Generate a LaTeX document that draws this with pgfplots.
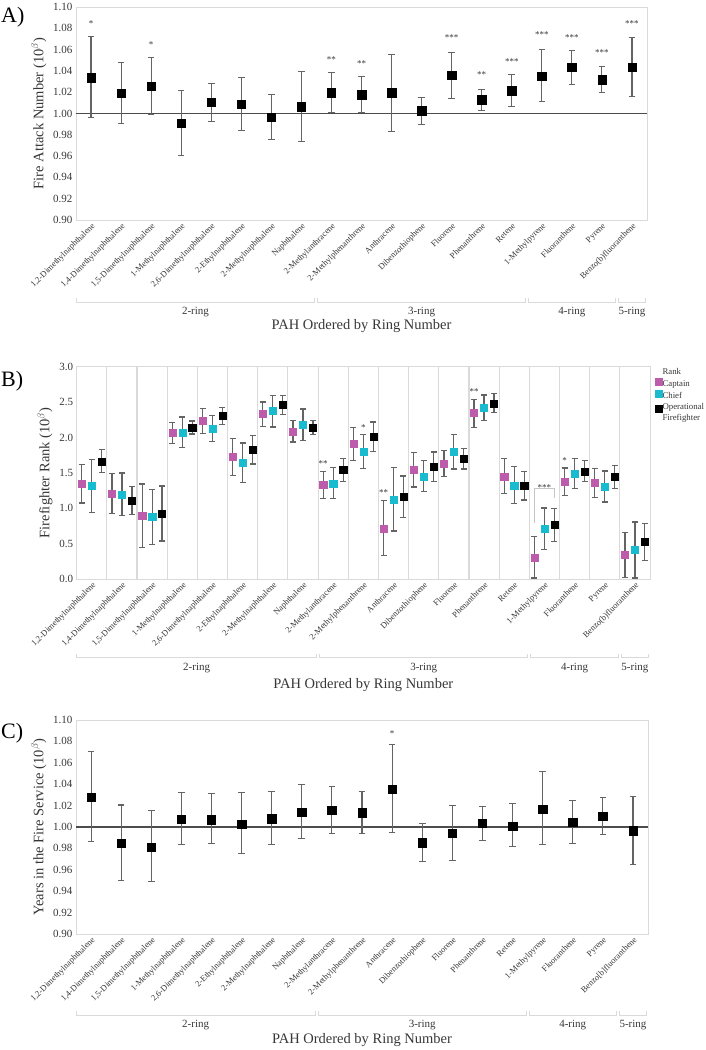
\documentclass[border=0pt]{standalone}
\usepackage{fontspec}
\setmainfont{Liberation Serif}
\usepackage{pgfplots}
\usepackage{pgfplotstable}
\pgfplotsset{compat=1.18}

\definecolor{captain}{RGB}{190,92,172}
\definecolor{chief}{RGB}{24,188,206}
\definecolor{frame}{RGB}{218,218,218}
\definecolor{bargray}{RGB}{100,100,100}
\definecolor{txt}{RGB}{55,55,55}

% A) fire attack number: estimate, lower, upper
\pgfplotstableread{
idx m lo hi
0 1.0335 0.9962 1.0722
1 1.0188 0.9909 1.0482
2 1.0256 0.9994 1.0528
3 0.9910 0.9604 1.0220
4 1.0104 0.9925 1.0285
5 1.0087 0.9838 1.0338
6 0.9963 0.9753 1.0179
7 1.0063 0.9737 1.0391
8 1.0194 1.0009 1.0388
9 1.0175 1.0009 1.0347
10 1.0194 0.9831 1.0557
11 1.0025 0.9897 1.0147
12 1.0357 1.0138 1.0575
13 1.0128 1.0028 1.0228
14 1.0213 1.0066 1.0366
15 1.0350 1.0113 1.0600
16 1.0432 1.0275 1.0591
17 1.0316 1.0200 1.0438
18 1.0435 1.0163 1.0716
}\attack

% B) rank
\pgfplotstableread{
idx m lo hi
0 1.347 1.073 1.616
1 1.206 0.923 1.488
2 0.895 0.447 1.343
3 2.068 1.912 2.214
4 2.233 2.054 2.407
5 1.729 1.465 1.983
6 2.332 2.157 2.501
7 2.077 1.936 2.242
8 1.328 1.135 1.521
9 1.908 1.677 2.138
10 0.716 0.330 1.107
11 1.550 1.300 1.790
12 1.630 1.451 1.813
13 2.346 2.143 2.539
14 1.451 1.206 1.700
15 0.306 0.014 0.603
16 1.380 1.182 1.569
17 1.357 1.154 1.559
18 0.339 0.024 0.655
}\capt

\pgfplotstableread{
idx m lo hi
0 1.314 0.943 1.686
1 1.196 0.900 1.498
2 0.881 0.485 1.267
3 2.073 1.861 2.289
4 2.129 1.941 2.313
5 1.644 1.361 1.922
6 2.374 2.148 2.595
7 2.186 1.960 2.402
8 1.352 1.135 1.573
9 1.804 1.559 2.040
10 1.121 0.678 1.573
11 1.451 1.239 1.672
12 1.795 1.554 2.040
13 2.416 2.237 2.600
14 1.324 1.069 1.587
15 0.711 0.415 1.003
16 1.493 1.276 1.705
17 1.305 1.088 1.526
18 0.410 0.014 0.805
}\chiefdata

\pgfplotstableread{
idx m lo hi
0 1.663 1.503 1.827
1 1.112 0.914 1.305
2 0.923 0.537 1.314
3 2.139 2.049 2.233
4 2.308 2.186 2.426
5 1.832 1.625 2.030
6 2.459 2.322 2.595
7 2.143 2.044 2.242
8 1.540 1.380 1.705
9 2.007 1.799 2.219
10 1.163 0.871 1.455
11 1.587 1.380 1.795
12 1.696 1.554 1.842
13 2.482 2.350 2.619
14 1.314 1.116 1.517
15 0.763 0.528 0.994
16 1.521 1.380 1.672
17 1.446 1.281 1.606
18 0.523 0.259 0.787
}\opff

% C) years in the fire service
\pgfplotstableread{
idx m lo hi
0 1.0278 0.9866 1.0703
1 0.9847 0.9497 1.0206
2 0.9809 0.9494 1.0153
3 1.0072 0.9834 1.0319
4 1.0069 0.9844 1.0309
5 1.0028 0.9756 1.0319
6 1.0078 0.9838 1.0331
7 1.0138 0.9894 1.0394
8 1.0159 0.9941 1.0375
9 1.0134 0.9941 1.0334
10 1.0353 0.9950 1.0775
11 0.9853 0.9675 1.0031
12 0.9941 0.9691 1.0203
13 1.0034 0.9872 1.0191
14 1.0009 0.9816 1.0216
15 1.0169 0.9834 1.0516
16 1.0047 0.9847 1.0247
17 1.0103 0.9931 1.0275
18 0.9966 0.9647 1.0288
}\service

\pgfplotsset{
  pah/.style={
    scale only axis,
    xmin=-0.5, xmax=18.5,
    xtick={0,...,18},
    xticklabels={{1,2-Dimethylnaphthalene},{1,4-Dimethylnaphthalene},{1,5-Dimethylnaphthalene},{1-Methylnaphthalene},{2,6-Dimethylnaphthalene},{2-Ethylnaphthalene},{2-Methylnaphthalene},Naphthalene,{2-Methylanthracene},{2-Methylphenanthrene},Anthracene,Dibenzothiophene,Fluorene,Phenanthrene,Retene,{1-Methylpyrene},Fluoranthene,Pyrene,{#1}},
    xticklabel style={rotate=45, anchor=north east, font=\fontsize{8.5bp}{9bp}\selectfont, text=txt, inner sep=1.5bp},
    yticklabel style={font=\fontsize{11bp}{12bp}\selectfont, text=txt},
    /pgf/number format/assume math mode=true,
    major tick length=0pt, minor tick length=0pt,
    axis line style={frame, line width=1bp},
    clip=false,
    xlabel={PAH Ordered by Ring Number},
    xlabel style={font=\fontsize{14.5bp}{15bp}\selectfont, text=txt, at={(axis description cs:0.5,0)}, anchor=base, yshift=-109bp},
    ylabel style={font=\fontsize{14.5bp}{15bp}\selectfont, text=txt},
  },
  est/.style={only marks, mark=square*, mark size=4.2bp, black,
    error bars/y dir=both, error bars/y explicit,
    error bars/error bar style={bargray, line width=1.1bp},
    error bars/error mark options={rotate=90, bargray, mark size=3.3bp, line width=1.1bp}},
  rank/.style={only marks, mark=square*, mark size=3.6bp, mark options={fill=#1, draw=#1},
    error bars/y dir=both, error bars/y explicit,
    error bars/error bar style={bargray, line width=1.2bp},
    error bars/error mark options={rotate=90, bargray, mark size=3bp, line width=1.2bp}},
}
\tikzset{sig/.style={font=\fontsize{9bp}{9bp}\selectfont, text=txt, anchor=base, yshift=-5bp, inner sep=0pt}}

% ring bracket: from, to, label, ymin, drop below axis
\newcommand\ring[5]{%
  \draw[frame, line width=1bp] ([yshift=-#5+4bp]axis cs:#1,#4) -- ([yshift=-#5]axis cs:#1,#4)
    -- node[midway, anchor=base, yshift=-12.5bp, text=txt, font=\fontsize{11bp}{12bp}\selectfont] {#3}
    ([yshift=-#5]axis cs:#2,#4) -- ([yshift=-#5+4bp]axis cs:#2,#4);
}

\begin{document}
\begin{tikzpicture}
\path[use as bounding box] (0,0) rectangle (706bp,-1050bp);

\node[anchor=base west, inner sep=0pt, font=\fontsize{22bp}{24bp}\selectfont] at (1bp,-22bp) {A)};
\node[anchor=base west, inner sep=0pt, font=\fontsize{22bp}{24bp}\selectfont] at (1bp,-386.5bp) {B)};
\node[anchor=base west, inner sep=0pt, font=\fontsize{22bp}{24bp}\selectfont] at (1bp,-738bp) {C)};

% ---------------- A
\begin{axis}[pah={Benzo(b)fluoranthene},
  at={(76bp,-220bp)}, anchor=south west, width=571bp, height=213bp,
  ymin=0.9, ymax=1.1,
  ytick={0.90,0.92,0.94,0.96,0.98,1.00,1.02,1.04,1.06,1.08,1.10},
  yticklabel style={/pgf/number format/fixed, /pgf/number format/fixed zerofill, /pgf/number format/precision=2},
  ylabel={Fire Attack Number (10$^{\beta}$)},
]
\addplot[gray!60!black, line width=1.2bp, forget plot] coordinates {(-0.5,1) (18.5,1)};
\addplot[est] table[x=idx, y=m, y error plus expr=\thisrow{hi}-\thisrow{m}, y error minus expr=\thisrow{m}-\thisrow{lo}] {\attack};
\node[sig] at (axis cs:0,1.0863) {*};
\node[sig] at (axis cs:2,1.0669) {*};
\node[sig] at (axis cs:8,1.0528) {**};
\node[sig] at (axis cs:9,1.0488) {**};
\node[sig] at (axis cs:12,1.0732) {***};
\node[sig] at (axis cs:13,1.0388) {**};
\node[sig] at (axis cs:14,1.0503) {***};
\node[sig] at (axis cs:15,1.0763) {***};
\node[sig] at (axis cs:16,1.0732) {***};
\node[sig] at (axis cs:17,1.0588) {***};
\node[sig] at (axis cs:18,1.0860) {***};
\ring{-0.5}{7.45}{2-ring}{0.9}{82bp}
\ring{7.55}{14.45}{3-ring}{0.9}{82bp}
\ring{14.55}{17.45}{4-ring}{0.9}{82bp}
\ring{17.55}{18.45}{5-ring}{0.9}{82bp}
\end{axis}

% ---------------- B
\begin{axis}[pah={Benzo(b)fluoranthene},
  at={(76.7bp,-579bp)}, anchor=south west, width=573.3bp, height=212.3bp,
  ymin=0, ymax=3, ytick={0,0.5,...,3},
  yticklabel style={/pgf/number format/fixed, /pgf/number format/fixed zerofill, /pgf/number format/precision=1},
  minor xtick={0.5,1.5,...,17.5}, xminorgrids, minor grid style={frame, line width=1.1bp},
  ylabel={Firefighter Rank (10$^{\beta}$)},
  legend style={at={(1,1)}, anchor=north west, xshift=4.8bp, yshift=0bp, draw=none, fill=none,
    inner sep=0pt, row sep=0.3bp, font=\fontsize{8.8bp}{11bp}\selectfont, text=txt,
    nodes={inner sep=0.7bp, text height=7bp, text depth=2.3bp},
    /tikz/every even column/.append style={column sep=1bp}},
  legend cell align=left,
  legend image code/.code={\draw[#1] plot coordinates {(0bp,3bp)};},
]
\addlegendimage{empty legend}\addlegendentry{Rank}
\addlegendimage{only marks, mark=square*, mark size=3.4bp, mark options={fill=captain, draw=captain}}\addlegendentry{Captain}
\addlegendimage{only marks, mark=square*, mark size=3.4bp, mark options={fill=chief, draw=chief}}\addlegendentry{Chief}
\addlegendimage{only marks, mark=square*, mark size=3.4bp, mark options={fill=black, draw=black}, yshift=-4bp}\addlegendentry{\begin{tabular}[t]{@{}l@{}}Operational\\Firefighter\end{tabular}}
\addplot[forget plot, rank=captain] table[x expr=\thisrow{idx}-0.33, y=m, y error plus expr=\thisrow{hi}-\thisrow{m}, y error minus expr=\thisrow{m}-\thisrow{lo}] {\capt};
\addplot[forget plot, rank=chief] table[x=idx, y=m, y error plus expr=\thisrow{hi}-\thisrow{m}, y error minus expr=\thisrow{m}-\thisrow{lo}] {\chiefdata};
\addplot[forget plot, rank=black] table[x expr=\thisrow{idx}+0.33, y=m, y error plus expr=\thisrow{hi}-\thisrow{m}, y error minus expr=\thisrow{m}-\thisrow{lo}] {\opff};
\node[sig] at (axis cs:7.67,1.658) {**};
\node[sig] at (axis cs:9,2.176) {*};
\node[sig] at (axis cs:9.67,1.248) {**};
\node[sig] at (axis cs:12.67,2.680) {**};
\node[sig] at (axis cs:15.67,1.700) {*};
\draw[gray!45, line width=1bp] (axis cs:14.67,0.787) -- (axis cs:14.67,1.272) -- (axis cs:15.33,1.272) -- (axis cs:15.33,1.14);
\node[sig] at (axis cs:15,1.328) {***};
\ring{-0.5}{7.45}{2-ring}{0}{78.7bp}
\ring{7.55}{14.45}{3-ring}{0}{78.7bp}
\ring{14.55}{17.45}{4-ring}{0}{78.7bp}
\ring{17.55}{18.45}{5-ring}{0}{78.7bp}
\end{axis}

% ---------------- C
\begin{axis}[pah={Benzo[b]fluoranthene},
  at={(76bp,-934bp)}, anchor=south west, width=572bp, height=214bp,
  ymin=0.9, ymax=1.1,
  ytick={0.90,0.92,0.94,0.96,0.98,1.00,1.02,1.04,1.06,1.08,1.10},
  yticklabel style={/pgf/number format/fixed, /pgf/number format/fixed zerofill, /pgf/number format/precision=2},
  ylabel={Years in the Fire Service (10$^{\beta}$)},
]
\addplot[gray!60!black, line width=1.2bp, forget plot] coordinates {(-0.5,1) (18.5,1)};
\addplot[est] table[x=idx, y=m, y error plus expr=\thisrow{hi}-\thisrow{m}, y error minus expr=\thisrow{m}-\thisrow{lo}] {\service};
\node[sig] at (axis cs:10,1.0894) {*};
\ring{-0.5}{7.45}{2-ring}{0.9}{81bp}
\ring{7.55}{14.45}{3-ring}{0.9}{81bp}
\ring{14.55}{17.45}{4-ring}{0.9}{81bp}
\ring{17.55}{18.45}{5-ring}{0.9}{81bp}
\end{axis}
\end{tikzpicture}
\end{document}
